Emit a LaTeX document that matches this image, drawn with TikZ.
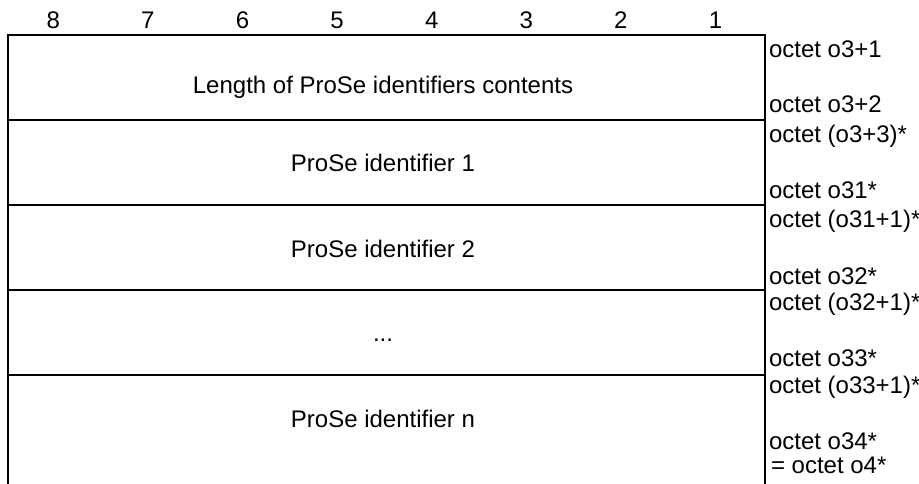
\documentclass[tikz,border=0pt]{standalone}
\usepackage{fontspec}
\setmainfont{Liberation Sans}
\usetikzlibrary{positioning}

\begin{document}
\begin{tikzpicture}[x=1pt, y=-1pt, line cap=rect, line width=2pt,
  txt/.style={font=\fontsize{24}{28}\selectfont, inner sep=0pt, anchor=base},
  octet/.style={font=\fontsize{24}{28}\selectfont, inner sep=0pt, anchor=base west}]
\useasboundingbox (0,0) rectangle (919,484);

% bit numbers
\foreach \b [count=\i from 0] in {8,7,6,5,4,3,2,1}
  \node[txt] (bit\b) at ({6+94.6*(\i+0.5)},29) {\b};

% frame
\draw (8,484) -- (8,35) -- (765,35) -- (765,484);
\foreach \y in {120,205,290,375}
  \draw (8,\y) -- (765,\y);

% fields
\node[txt] (len) at (383,94) {Length of ProSe identifiers contents};
\node[txt] (id1) at (383,172) {ProSe identifier 1};
\node[txt] (id2) at (383,257) {ProSe identifier 2};
\node[txt] (dots) at (383,341) {...};
\node[txt] (idn) at (383,427) {ProSe identifier n};

% octets
\node[octet] (oa) at (768,58) {octet o3+1};
\node[octet] (ob) at (768,113) {octet o3+2};
\node[octet] (oc) at (768,143) {octet (o3+3)*};
\node[octet] (od) at (768,199) {octet o31*};
\node[octet] (oe) at (768,228) {octet (o31+1)*};
\node[octet] (of) at (768,284) {octet o32*};
\node[octet] (og) at (768,310) {octet (o32+1)*};
\node[octet] (oh) at (768,366) {octet o33*};
\node[octet] (oi) at (768,393) {octet (o33+1)*};
\node[octet] (oj) at (768,449) {octet o34*};
\node[octet] (ok) at (770,473) {= octet o4*};

\end{tikzpicture}
\end{document}
